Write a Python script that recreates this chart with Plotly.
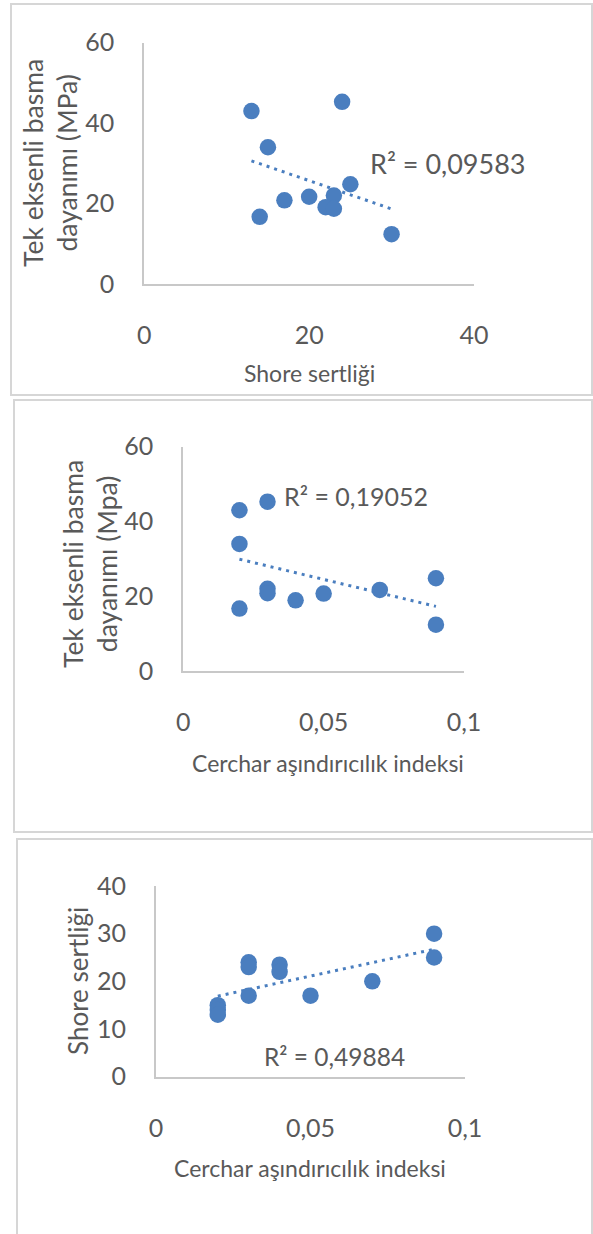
import numpy as np
import plotly.graph_objects as go

W, H = 593, 1234

# ---- data ----
shore_1 = [13, 24, 15, 25, 17, 20, 23, 22, 23, 14, 30]
ucs_1 = [43, 45.3, 34, 24.8, 20.8, 21.7, 22, 19.1, 18.7, 16.7, 12.4]

cai_2 = [0.02, 0.02, 0.02, 0.03, 0.03, 0.03, 0.04, 0.05, 0.07, 0.09, 0.09]
ucs_2 = [43, 34, 16.7, 45.3, 22, 20.8, 18.9, 20.7, 21.7, 24.8, 12.4]

cai_3 = [0.02, 0.02, 0.02, 0.03, 0.03, 0.03, 0.04, 0.04, 0.05, 0.07, 0.09, 0.09]
shore_3 = [15, 14, 13, 24, 23, 17, 23.5, 22, 17, 20, 30, 25]

r2_labels = ["R² = 0,09583", "R² = 0,19052", "R² = 0,49884"]
x_titles = ["Shore sertliği", "Cerchar aşındırıcılık indeksi", "Cerchar aşındırıcılık indeksi"]
y_titles = ["Tek eksenli basma<br>dayanımı (MPa)", "Tek eksenli basma<br>dayanımı (Mpa)", "Shore sertliği"]

x1_ticks = [0, 20, 40]
x1_text = ["0", "20", "40"]
y1_ticks = [0, 20, 40, 60]
y1_text = ["0", "20", "40", "60"]
cai_ticks = [0, 0.05, 0.1]
cai_text = ["0", "0,05", "0,1"]
y3_ticks = [0, 10, 20, 30, 40]
y3_text = ["0", "10", "20", "30", "40"]

BLUE = "#4a7ebf"
GREY = "#595959"
FRAME = "#d6d6d6"
FONT = "Lato"


def fx(p):
    return p / W


def fy(p):
    return 1 - p / H


fig = go.Figure()

panels = [
    dict(x=shore_1, y=ucs_1, xa="x", ya="y", xr=[0, 40], yr=[0, 60],
         xt=(x1_ticks, x1_text), yt=(y1_ticks, y1_text),
         dom_x=(144.3, 474), dom_y=(42.7, 284)),
    dict(x=cai_2, y=ucs_2, xa="x2", ya="y2", xr=[0, 0.1], yr=[0, 60],
         xt=(cai_ticks, cai_text), yt=(y1_ticks, y1_text),
         dom_x=(183.3, 464), dom_y=(446.7, 671)),
    dict(x=cai_3, y=shore_3, xa="x3", ya="y3", xr=[0, 0.1], yr=[0, 40],
         xt=(cai_ticks, cai_text), yt=(y3_ticks, y3_text),
         dom_x=(156, 465), dom_y=(886, 1076.7)),
]

layout_axes = {}
for i, p in enumerate(panels):
    xs = np.array(p["x"], dtype=float)
    ys = np.array(p["y"], dtype=float)
    m, b = np.polyfit(xs, ys, 1)
    tx = np.array([xs.min(), xs.max()])
    fig.add_trace(go.Scatter(
        x=tx, y=m * tx + b, mode="lines", xaxis=p["xa"], yaxis=p["ya"],
        line=dict(color=BLUE, width=3, dash="3px,5px"), showlegend=False,
        hoverinfo="skip"))
    fig.add_trace(go.Scatter(
        x=p["x"], y=p["y"], mode="markers", xaxis=p["xa"], yaxis=p["ya"],
        marker=dict(color=BLUE, size=16.5, line=dict(width=0)),
        showlegend=False, cliponaxis=False))
    sfx = "" if i == 0 else str(i + 1)
    layout_axes["xaxis" + sfx] = dict(
        domain=[fx(p["dom_x"][0]), fx(p["dom_x"][1])],
        range=p["xr"], anchor="y" + sfx, showgrid=False, zeroline=False,
        showline=True, linecolor="#c8c8c8", linewidth=2, automargin=False,
        tickvals=p["xt"][0], ticktext=p["xt"][1], ticks="",
        ticklabelstandoff=28,
        tickfont=dict(family=FONT, size=25, color=GREY))
    layout_axes["yaxis" + sfx] = dict(
        domain=[fy(p["dom_y"][1]), fy(p["dom_y"][0])],
        range=p["yr"], anchor="x" + sfx, showgrid=False, zeroline=False,
        showline=True, linecolor="#c8c8c8", linewidth=2, automargin=False,
        tickvals=p["yt"][0], ticktext=p["yt"][1], ticks="",
        ticklabelstandoff=23,
        tickfont=dict(family=FONT, size=25, color=GREY))

fig.update_layout(**layout_axes)

# frames
frames = [(11, 4, 592, 395), (14, 400, 592, 832), (17, 839, 592, 1245)]
shapes = []
for (x0, y0, x1, y1) in frames:
    shapes.append(dict(type="rect", xref="paper", yref="paper",
                       x0=fx(x0), x1=fx(x1), y0=fy(y1), y1=fy(y0),
                       line=dict(color=FRAME, width=2), fillcolor="rgba(0,0,0,0)",
                       layer="below"))

ann = []
r2_pos = [(448.5, 164, 27), (355.5, 496, 25), (334, 1056, 24.5)]
xt_pos = [(309, 373, 23), (328, 763, 23), (310, 1168, 23)]
yt_pos = [(50, 163, 26.5), (90, 564, 26.5), (78, 981, 26)]
for i in range(3):
    x, y, s = r2_pos[i]
    ann.append(dict(text=r2_labels[i], x=fx(x), y=fy(y), xref="paper", yref="paper",
                    xanchor="center", yanchor="middle", showarrow=False,
                    font=dict(family=FONT, size=s, color=GREY)))
    x, y, s = xt_pos[i]
    ann.append(dict(text=x_titles[i], x=fx(x), y=fy(y), xref="paper", yref="paper",
                    xanchor="center", yanchor="middle", showarrow=False,
                    font=dict(family=FONT, size=s, color=GREY)))
    x, y, s = yt_pos[i]
    ann.append(dict(text=y_titles[i], x=fx(x), y=fy(y), xref="paper", yref="paper",
                    xanchor="center", yanchor="middle", showarrow=False, textangle=-90,
                    font=dict(family=FONT, size=s, color=GREY)))

fig.update_layout(
    width=W, height=H, autosize=False,
    margin=dict(l=0, r=0, t=0, b=0, pad=0, autoexpand=False),
    paper_bgcolor="white", plot_bgcolor="white",
    shapes=shapes, annotations=ann, showlegend=False,
)

fig.write_html(
    "out.html",
    config={"displayModeBar": False},
    post_script="document.body.style.margin='0';document.body.style.padding='0';"
                "document.documentElement.style.overflow='hidden';",
)
